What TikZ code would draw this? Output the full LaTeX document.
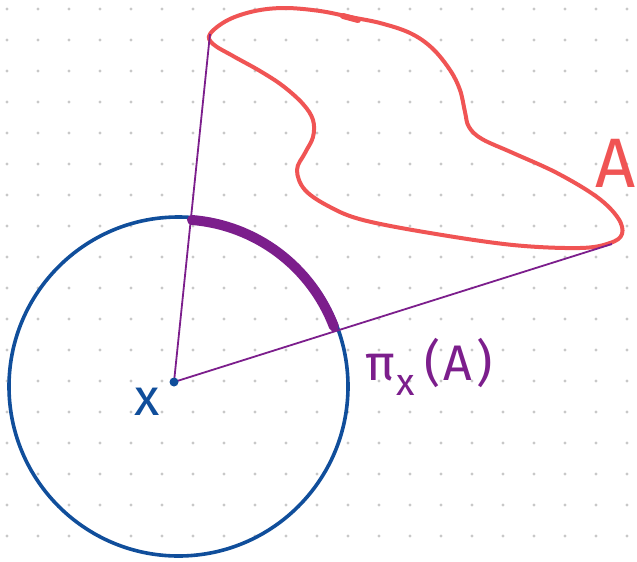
\documentclass[tikz,border=0pt]{standalone}
\usepackage{fontspec}
\newfontfamily\hand{Fira Sans}
\definecolor{cblue}{RGB}{16,78,155}
\definecolor{cred}{RGB}{240,84,84}
\definecolor{cpurple}{RGB}{124,30,140}
\definecolor{cdot}{RGB}{200,200,200}
\tikzset{
  griddot/.style={fill=cdot},
  disc/.style={draw=cblue, line width=3.6pt},
  blob/.style={draw=cred, line width=4pt, line join=round},
  ray/.style={draw=cpurple, line width=1.8pt},
  proj/.style={draw=cpurple, line width=10pt, line cap=round},
  handlabel/.style={inner sep=0pt},
}
\begin{document}
\begin{tikzpicture}[x=1pt,y=-1pt]
\useasboundingbox (0,0) rectangle (637,562);
\fill[white] (0,0) rectangle (637,562);
\foreach \i in {0,...,20}{\foreach \j in {0,...,17}{\fill[griddot] (7+31*\i,9+31*\j) circle (1.6pt);}}
\coordinate (C) at (178.5,386.5);
\coordinate (X) at (174,382);
\coordinate (T1) at (210,34);
\coordinate (T2) at (612,244);
\coordinate (P1) at (192.0,220.0);
% circle
\draw[disc] (C) circle (169.5pt);
% blob A
\draw[blob] plot[smooth cycle, tension=0.6] coordinates {
(210,34) (228,20) (255,11) (285,8) (320,11) (350,17) (380,23) (410,33) (432,48) (450,70) (460,90) (465,112) (469,127) (482,139) (513,153) (557,173) (597,197) (618,218) (622,234) (610,243) (580,248) (513,245) (430,233) (363,220) (330,207) (305,190) (297,170) (305,153) (313,137) (313,120) (303,104) (283,86) (260,71) (233,56) (213,44)};
\draw[cred, line width=6pt, line cap=round] (343,16) -- (358,20);
% rays
\draw[ray] (T1) -- (X) -- (T2);
% projection arc
\draw[proj] (P1) arc[start angle=85.4, end angle=20.8, radius=166pt];
\fill[cblue] (X) circle (4.5pt);
% labels
\node[handlabel, text=cblue, font=\hand\fontsize{52}{52}\selectfont] (lx) at (147,402) {x};
\node[handlabel, anchor=base west, text=cpurple, font=\hand\fontsize{50}{50}\selectfont] (lp) at (365,380) {π\hspace{2pt}\raisebox{-0.3em}{\fontsize{38}{38}\selectfont x}\hspace{9pt}(\hspace{3pt}A\hspace{4pt})};
\node[handlabel, anchor=east, text=cred, font=\hand\fontsize{70}{70}\selectfont] (la) at (636,163) {A};
\end{tikzpicture}
\end{document}
